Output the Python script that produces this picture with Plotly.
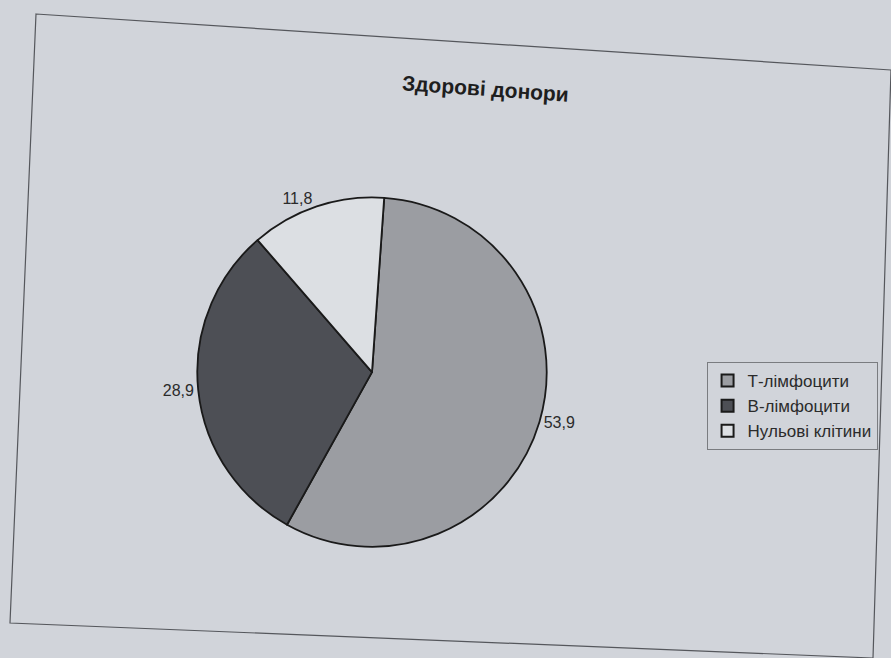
import plotly.graph_objects as go

# Lymphocyte populations in healthy donors (%)
categories = ["Т-лімфоцити", "В-лімфоцити", "Нульові клітини"]
values = [53.9, 28.9, 11.8]
slice_colors = ["#9b9da2", "#4d4f55", "#dcdfe3"]

chart_title = "Здорові донори"
paper_color = "#d1d4da"
font_family = "Arial, Liberation Sans, sans-serif"

fig = go.Figure()

fig.add_trace(go.Pie(
    labels=categories,
    values=values,
    sort=False,
    direction="clockwise",
    rotation=4,
    marker=dict(colors=slice_colors, line=dict(color="#1a1a1a", width=1.8)),
    texttemplate="%{value:.1f}",
    textposition="outside",
    textfont=dict(family=font_family, size=16, color="#2b2b2b"),
    outsidetextfont=dict(family=font_family, size=16, color="#2b2b2b"),
    domain=dict(x=[0.221, 0.614], y=[0.169, 0.700]),
    hoverinfo="label+value",
))

# Chart frame, slightly skewed as on the printed page
frame_path = "M 36 14 L 891 70 L 873 658 L 10 623 Z"

fig.update_layout(
    width=891,
    height=658,
    margin=dict(l=0, r=0, t=0, b=0),
    paper_bgcolor=paper_color,
    plot_bgcolor=paper_color,
    separators=",.",
    showlegend=True,
    legend=dict(
        x=0.793, y=0.383, xanchor="left", yanchor="middle",
        bgcolor="rgba(0,0,0,0)",
        bordercolor="#7a7c80", borderwidth=1,
        font=dict(family=font_family, size=17, color="#2b2b2b"),
        itemsizing="constant",
        itemwidth=30,
    ),
    annotations=[dict(
        text="<b>" + chart_title + "</b>",
        x=0.545, y=0.865, xref="paper", yref="paper",
        xanchor="center", yanchor="middle",
        showarrow=False, textangle=4,
        font=dict(family=font_family, size=21, color="#1e1e1e"),
    )],
    shapes=[dict(
        type="path", path=frame_path, xref="x", yref="y",
        line=dict(color="#55575c", width=1.2), fillcolor="rgba(0,0,0,0)", layer="below",
    )],
    xaxis=dict(range=[0, 891], visible=False, fixedrange=True),
    yaxis=dict(range=[658, 0], visible=False, fixedrange=True),
)

fig.write_html("out.html")
